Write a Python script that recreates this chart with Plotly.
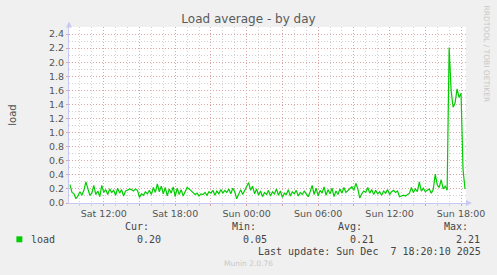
import pandas as pd
import plotly.graph_objects as go

# ---- data (10-minute samples) ----
start_time = "2025-12-06 09:10"
load_values = [
    0.26, 0.15, 0.13, 0.06, 0.10, 0.16, 0.11, 0.18, 0.30, 0.20, 0.11, 0.14, 0.25, 0.12, 0.17, 0.09, 0.25, 0.15, 0.19, 0.12,
    0.20, 0.15, 0.18, 0.11, 0.21, 0.14, 0.19, 0.10, 0.17, 0.18, 0.20, 0.19, 0.17, 0.20, 0.18, 0.08, 0.13, 0.11, 0.16, 0.13,
    0.18, 0.12, 0.22, 0.15, 0.27, 0.16, 0.24, 0.13, 0.22, 0.10, 0.20, 0.14, 0.23, 0.09, 0.21, 0.12, 0.19, 0.10, 0.17, 0.22,
    0.20, 0.17, 0.15, 0.12, 0.14, 0.10, 0.13, 0.12, 0.15, 0.11, 0.16, 0.14, 0.18, 0.11, 0.17, 0.13, 0.19, 0.14, 0.18, 0.15,
    0.20, 0.13, 0.21, 0.16, 0.06, 0.14, 0.19, 0.12, 0.17, 0.22, 0.29, 0.18, 0.24, 0.13, 0.20, 0.11, 0.17, 0.09, 0.15, 0.12,
    0.18, 0.10, 0.16, 0.13, 0.20, 0.11, 0.17, 0.08, 0.14, 0.12, 0.19, 0.10, 0.16, 0.13, 0.18, 0.10, 0.15, 0.12, 0.17, 0.13,
    0.09, 0.16, 0.25, 0.12, 0.21, 0.10, 0.18, 0.14, 0.23, 0.11, 0.19, 0.13, 0.21, 0.09, 0.17, 0.12, 0.20, 0.14, 0.22, 0.15,
    0.18, 0.20, 0.23, 0.18, 0.28, 0.20, 0.07, 0.13, 0.17, 0.15, 0.22, 0.14, 0.19, 0.12, 0.18, 0.13, 0.16, 0.11, 0.17, 0.14,
    0.19, 0.12, 0.16, 0.18, 0.15, 0.17, 0.09, 0.10, 0.11, 0.10, 0.12, 0.14, 0.22, 0.15, 0.20, 0.16, 0.30, 0.17, 0.21, 0.16,
    0.18, 0.20, 0.14, 0.19, 0.41, 0.26, 0.22, 0.33, 0.20, 0.24, 0.18, 2.21, 1.60, 1.36, 1.42, 1.62, 1.50, 1.56, 0.48, 0.20,
]
times = pd.date_range(start_time, periods=len(load_values), freq="10min")

x_range = ["2025-12-06 09:05", "2025-12-07 18:25"]
x_tickvals = ["2025-12-06 12:00", "2025-12-06 15:00", "2025-12-06 18:00", "2025-12-06 21:00",
              "2025-12-07 00:00", "2025-12-07 03:00", "2025-12-07 06:00", "2025-12-07 09:00",
              "2025-12-07 12:00", "2025-12-07 15:00", "2025-12-07 18:00"]
x_ticktext = ["Sat 12:00", "", "Sat 18:00", "", "Sun 00:00", "", "Sun 06:00", "", "Sun 12:00", "", "Sun 18:00"]

legend_heads = ["Cur:", "Min:", "Avg:", "Max:"]
legend_vals = ["0.20", "0.05", "0.21", "2.21"]
series_name = "load"
last_update = "Last update: Sun Dec  7 18:20:10 2025"

# ---- geometry ----
W, H = 497, 275
L, R, T, B = 67, 467, 26.5, 203.5


def px(x):
    return (x - L) / (R - L)


def py(y):
    return (B - y) / (B - T)


RED = "#dca6a6"
GRAY = "#d2d2d2"
AXIS = "#c8c8f4"
TXT = "#555555"
MONO = "DejaVu Sans Mono"

fig = go.Figure()
fig.add_trace(go.Scatter(x=times, y=load_values, mode="lines",
                         line=dict(color="#00CC00", width=1.2), hoverinfo="skip", showlegend=False))

fig.update_layout(
    width=W, height=H,
    margin=dict(l=L, r=W - R, t=T, b=H - B, pad=0),
    paper_bgcolor="#F0F0F0", plot_bgcolor="#FFFFFF",
    font=dict(family="DejaVu Sans", color=TXT, size=10),
    title=dict(text="Load average - by day", x=0.5, xanchor="center", y=1 - 19 / H, yanchor="middle",
               font=dict(size=12, color="#5a5a5a")),
    showlegend=False,
)

fig.update_xaxes(
    type="date", range=x_range, tickmode="array", tickvals=x_tickvals, ticktext=x_ticktext,
    showgrid=True, gridcolor=RED, griddash="1px,2px", gridwidth=1,
    ticks="outside", ticklen=2, tickcolor=RED,
    tickfont=dict(size=9.5, color=TXT),
    minor=dict(tickmode="linear", tick0="2025-12-06 00:00", dtick=3600000, showgrid=True,
               gridcolor=GRAY, griddash="1px,2px", gridwidth=1, ticks="outside", ticklen=2, tickcolor=GRAY),
    showline=True, linecolor=AXIS, linewidth=1, zeroline=False,
    fixedrange=True,
)
fig.update_yaxes(
    range=[0, 2.5], tick0=0, dtick=0.2, tickformat=".1f",
    showgrid=True, gridcolor=RED, griddash="1px,2px", gridwidth=1,
    ticks="outside", ticklen=2, tickcolor=RED,
    tickfont=dict(size=9.5, color=TXT),
    minor=dict(tick0=0, dtick=0.1, showgrid=True, gridcolor=GRAY, griddash="1px,2px", gridwidth=1),
    showline=True, linecolor=AXIS, linewidth=1, zeroline=False,
    title=dict(text="load", font=dict(size=10, color=TXT), standoff=30),
    fixedrange=True,
)

shapes = []
# axis arrows
shapes.append(dict(type="path", xref="paper", yref="paper",
                   path=f"M {px(64)} {py(27)} L {px(70)} {py(27)} L {px(67)} {py(21)} Z",
                   fillcolor=AXIS, line=dict(width=0)))
shapes.append(dict(type="path", xref="paper", yref="paper",
                   path=f"M {px(467)} {py(200.5)} L {px(467)} {py(206.5)} L {px(473)} {py(203.5)} Z",
                   fillcolor=AXIS, line=dict(width=0)))
# legend swatch
shapes.append(dict(type="rect", xref="paper", yref="paper",
                   x0=px(14), x1=px(20), y0=py(243), y1=py(237),
                   fillcolor="#00CC00", line=dict(width=0)))
fig.update_layout(shapes=shapes)

ann = []
ann.append(dict(text=series_name, x=px(27), y=py(240), xanchor="left", yanchor="middle"))
for i, (h, v) in enumerate(zip(legend_heads, legend_vals)):
    right = 162 + 107 * i
    ann.append(dict(text=h, x=px(right - 12), y=py(227), xanchor="right", yanchor="middle"))
    ann.append(dict(text=v, x=px(right), y=py(240), xanchor="right", yanchor="middle"))
ann.append(dict(text=last_update, x=px(484), y=py(252.5), xanchor="right", yanchor="middle"))
for a in ann:
    a.update(xref="paper", yref="paper", showarrow=False, font=dict(family=MONO, size=10, color="#444444"))
ann.append(dict(text="Munin 2.0.76", x=px(248), y=py(264), xref="paper", yref="paper", showarrow=False,
                xanchor="center", yanchor="middle", font=dict(size=7.5, color="#c8c8c8")))
ann.append(dict(text="RRDTOOL / TOBI OETIKER", x=px(488), y=py(54), xref="paper", yref="paper",
                showarrow=False, textangle=90, xanchor="center", yanchor="middle",
                font=dict(size=7.5, color="#c8c8c8")))
fig.update_layout(annotations=ann)

fig.write_html("out.html")
